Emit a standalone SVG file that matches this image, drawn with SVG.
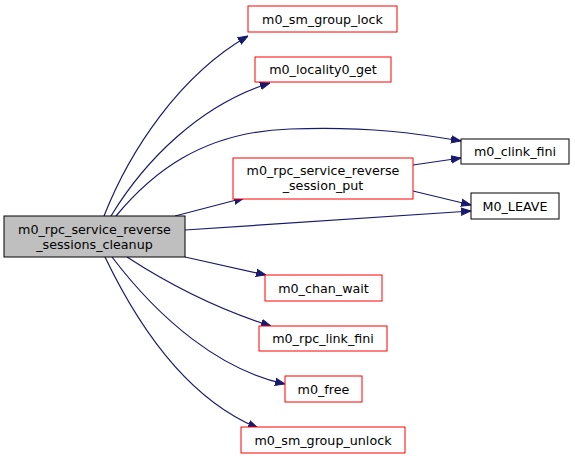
<svg xmlns="http://www.w3.org/2000/svg" width="575" height="459" viewBox="0 0 575 459">
<defs>
<marker id="ah" viewBox="0 0 10 10" refX="10" refY="5" markerWidth="10" markerHeight="10" markerUnits="userSpaceOnUse" orient="auto">
<path d="M0,1.3 L10,5 L0,8.7 Z" fill="#191970" stroke="#191970"/>
</marker>
</defs>
<style>
.n rect{fill:#fff;stroke:#ff0000;stroke-width:1}
.b rect{stroke:#000}
.m rect{fill:#bfbfbf;stroke:#000}
text{font-family:"DejaVu Sans",sans-serif;font-size:12.7px;text-anchor:middle;fill:#000}
.e path{fill:none;stroke:#191970;stroke-width:1.2;marker-end:url(#ah)}
</style>
<rect width="575" height="459" fill="#fff"/>
<g class="e" id="edges">
<path d="M104,216 C130,150 180,75 248,36"/>
<path d="M111,216 C145,160 200,105 270,83"/>
<path d="M116,216 C150,175 200,132 290,129 C370,126 420,134 461,141"/>
<path d="M175,216 L244,198"/>
<path d="M413,165 L461,158"/>
<path d="M413,191 L471,205"/>
<path d="M185,230 L471,211"/>
<path d="M185,257 L266,275"/>
<path d="M127,257 C170,285 220,310 271,326"/>
<path d="M112,257 C160,320 220,370 285,384"/>
<path d="M105,257 C140,330 190,400 258,428"/>
</g>
<g class="n m" id="main"><rect x="4" y="216" width="181" height="41"/><text x="94.5" y="234">m0_rpc_service_reverse</text><text x="94.5" y="249">_sessions_cleanup</text></g>
<g class="n" id="n1"><rect x="248" y="6" width="149" height="26"/><text x="322.5" y="23.5">m0_sm_group_lock</text></g>
<g class="n" id="n2"><rect x="255" y="57" width="136" height="25"/><text x="323" y="74">m0_locality0_get</text></g>
<g class="n b" id="n3"><rect x="461" y="139" width="108" height="25"/><text x="515" y="156">m0_clink_fini</text></g>
<g class="n" id="n4"><rect x="233" y="158" width="180" height="41"/><text x="323" y="175">m0_rpc_service_reverse</text><text x="323" y="190">_session_put</text></g>
<g class="n b" id="n5"><rect x="471" y="193" width="88" height="26"/><text x="515" y="210.5">M0_LEAVE</text></g>
<g class="n" id="n6"><rect x="265" y="275" width="117" height="26"/><text x="323.5" y="292.5">m0_chan_wait</text></g>
<g class="n" id="n7"><rect x="259" y="326" width="128" height="25"/><text x="323" y="343">m0_rpc_link_fini</text></g>
<g class="n" id="n8"><rect x="285" y="376" width="77" height="26"/><text x="323.5" y="393.5">m0_free</text></g>
<g class="n" id="n9"><rect x="241" y="427" width="164" height="26"/><text x="323" y="444.5">m0_sm_group_unlock</text></g>
</svg>
